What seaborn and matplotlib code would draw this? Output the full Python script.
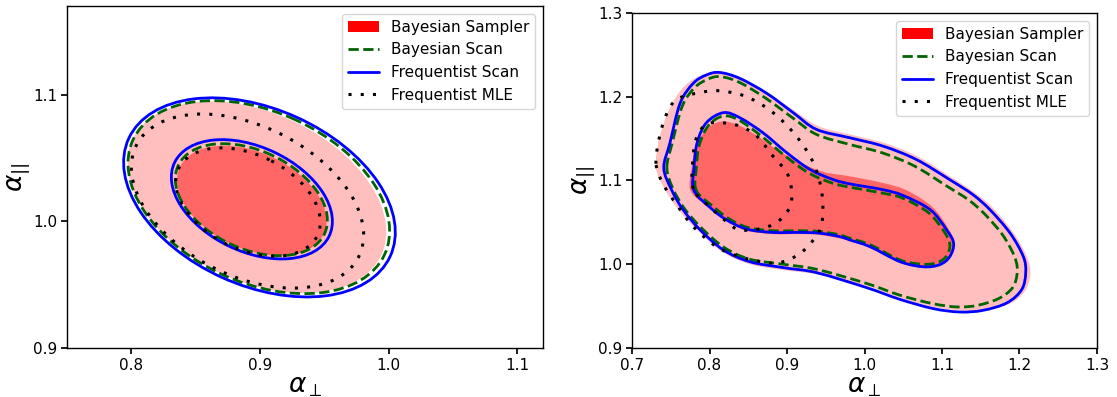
import numpy as np
import matplotlib
matplotlib.use("Agg")
import matplotlib.pyplot as plt
import seaborn as sns
from matplotlib.path import Path
from matplotlib.patches import PathPatch, Ellipse, Patch
from matplotlib.lines import Line2D

# ---------------- data ----------------
legend_labels = ["Bayesian Sampler", "Bayesian Scan", "Frequentist Scan", "Frequentist MLE"]

# Left panel: elliptical contours  [centre x, centre y, half x-extent, half y-extent, correlation]
L_sampler_2s = [0.8976, 1.0190, 0.1006, 0.0757, -0.36]
L_sampler_1s = [0.8936, 1.0163, 0.0581, 0.0434, -0.37]
L_bscan_2s = [0.8991, 1.0191, 0.1017, 0.0762, -0.35]
L_bscan_1s = [0.8933, 1.0171, 0.0591, 0.0442, -0.37]
L_fscan_2s = [0.8996, 1.0189, 0.1056, 0.0786, -0.35]
L_fscan_1s = [0.8937, 1.0174, 0.0626, 0.0471, -0.37]
L_mle_2s = [0.8903, 1.0160, 0.0903, 0.0687, -0.39]
L_mle_1s = [0.8907, 1.0152, 0.0562, 0.0428, -0.37]

# Right panel: contour outlines
R_sampler_2s_x = [0.731, 0.735, 0.748, 0.765, 0.785, 0.805, 0.822, 0.845, 0.876, 0.910, 0.940, 0.981,
                  1.025, 1.068, 1.112, 1.143, 1.166, 1.192, 1.210, 1.214, 1.207, 1.188, 1.155, 1.123,
                  1.089, 1.046, 1.003, 0.938, 0.895, 0.852, 0.816, 0.785, 0.760, 0.742]
R_sampler_2s_y = [1.115, 1.150, 1.185, 1.210, 1.224, 1.229, 1.228, 1.220, 1.204, 1.183, 1.165, 1.155,
                  1.145, 1.129, 1.104, 1.085, 1.067, 1.038, 1.008, 0.988, 0.968, 0.953, 0.945, 0.945,
                  0.949, 0.960, 0.974, 0.988, 0.993, 1.000, 1.015, 1.040, 1.065, 1.090]

R_sampler_1s_x = [0.776, 0.777, 0.782, 0.795, 0.813, 0.835, 0.862, 0.890, 0.918, 0.948, 0.981, 1.024,
                  1.055, 1.088, 1.108, 1.116, 1.111, 1.097, 1.076, 1.046, 1.007, 0.981, 0.943, 0.917,
                  0.882, 0.848, 0.822, 0.803]
R_sampler_1s_y = [1.087, 1.115, 1.140, 1.160, 1.170, 1.167, 1.153, 1.135, 1.121, 1.110, 1.105, 1.097,
                  1.088, 1.068, 1.043, 1.025, 1.009, 0.999, 0.996, 1.002, 1.020, 1.028, 1.035, 1.036,
                  1.036, 1.040, 1.051, 1.065]

R_bscan_2s_x = [0.745, 0.752, 0.765, 0.781, 0.798, 0.814, 0.839, 0.873, 0.907, 0.938, 0.981, 1.023,
                1.065, 1.105, 1.134, 1.155, 1.179, 1.194, 1.197, 1.191, 1.173, 1.146, 1.120, 1.088,
                1.046, 1.003, 0.938, 0.895, 0.852, 0.819, 0.790, 0.768, 0.753]
R_bscan_2s_y = [1.115, 1.145, 1.189, 1.211, 1.221, 1.224, 1.217, 1.198, 1.175, 1.155, 1.143, 1.133,
                1.117, 1.094, 1.077, 1.060, 1.034, 1.008, 0.990, 0.972, 0.959, 0.951, 0.949, 0.953,
                0.963, 0.977, 0.994, 1.000, 1.006, 1.020, 1.043, 1.066, 1.090]

R_bscan_1s_x = [0.783, 0.783, 0.787, 0.799, 0.818, 0.838, 0.867, 0.898, 0.928, 0.958, 0.981, 1.023,
                1.049, 1.082, 1.102, 1.110, 1.106, 1.094, 1.075, 1.046, 1.008, 0.981, 0.968, 0.943,
                0.917, 0.882, 0.849, 0.824, 0.806]
R_bscan_1s_y = [1.088, 1.115, 1.143, 1.166, 1.177, 1.172, 1.153, 1.129, 1.109, 1.097, 1.092, 1.085,
                1.079, 1.062, 1.040, 1.024, 1.010, 1.002, 1.000, 1.005, 1.023, 1.031, 1.035, 1.039,
                1.040, 1.040, 1.044, 1.055, 1.068]

R_fscan_2s_x = [0.741, 0.749, 0.762, 0.779, 0.796, 0.813, 0.839, 0.874, 0.908, 0.938, 0.981, 1.024,
                1.067, 1.110, 1.140, 1.162, 1.188, 1.205, 1.208, 1.203, 1.184, 1.153, 1.123, 1.089,
                1.046, 1.003, 0.938, 0.895, 0.852, 0.818, 0.788, 0.766, 0.751]
R_fscan_2s_y = [1.115, 1.145, 1.192, 1.216, 1.226, 1.229, 1.222, 1.204, 1.181, 1.161, 1.151, 1.141,
                1.125, 1.101, 1.083, 1.065, 1.037, 1.009, 0.990, 0.970, 0.954, 0.945, 0.943, 0.947,
                0.958, 0.972, 0.990, 0.996, 1.003, 1.017, 1.041, 1.065, 1.089]

R_fscan_1s_x = [0.780, 0.780, 0.784, 0.796, 0.818, 0.839, 0.869, 0.900, 0.930, 0.960, 0.981, 1.024,
                1.050, 1.085, 1.106, 1.115, 1.110, 1.097, 1.076, 1.046, 1.007, 0.981, 0.968, 0.943,
                0.917, 0.882, 0.848, 0.822, 0.803]
R_fscan_1s_y = [1.088, 1.115, 1.145, 1.169, 1.181, 1.175, 1.157, 1.133, 1.113, 1.101, 1.096, 1.089,
                1.082, 1.065, 1.041, 1.025, 1.009, 0.9995, 0.997, 1.003, 1.021, 1.029, 1.033, 1.037,
                1.038, 1.038, 1.042, 1.053, 1.066]

R_mle_2s_x = [0.731, 0.735, 0.744, 0.758, 0.788, 0.814, 0.848, 0.882, 0.912, 0.934, 0.945, 0.945,
              0.934, 0.917, 0.895, 0.874, 0.839, 0.809, 0.779, 0.757, 0.740]
R_mle_2s_y = [1.120, 1.150, 1.178, 1.197, 1.205, 1.207, 1.200, 1.181, 1.153, 1.121, 1.085, 1.049,
              1.029, 1.013, 1.003, 1.002, 1.009, 1.021, 1.045, 1.072, 1.096]

R_mle_1s_x = [0.779, 0.779, 0.784, 0.796, 0.814, 0.839, 0.861, 0.882, 0.900, 0.906, 0.904, 0.891,
              0.869, 0.839, 0.822, 0.801]
R_mle_1s_y = [1.090, 1.129, 1.153, 1.167, 1.169, 1.165, 1.153, 1.129, 1.109, 1.087, 1.069, 1.053,
              1.043, 1.041, 1.051, 1.068]

L_xlim, L_ylim = (0.75, 1.12), (0.9, 1.17)
L_xticks, L_yticks = [0.8, 0.9, 1.0, 1.1], [0.9, 1.0, 1.1]
R_xlim, R_ylim = (0.7, 1.3), (0.9, 1.3)
R_xticks, R_yticks = [0.7, 0.8, 0.9, 1.0, 1.1, 1.2, 1.3], [0.9, 1.0, 1.1, 1.2, 1.3]

# ---------------- style ----------------
sns.set_theme(style="ticks", rc={
    "axes.edgecolor": "black", "xtick.color": "black", "ytick.color": "black",
    "text.color": "black", "axes.labelcolor": "black", "axes.linewidth": 1.0,
    "xtick.major.size": 4, "ytick.major.size": 4,
})
plt.rcParams["font.family"] = ["DejaVu Sans"]

C_OUT, C_IN = "#ffbfbf", "#ff6666"
DASH = (0, (3.7, 1.6))
DOT = (0, (1, 3))
STY = {
    "bscan": dict(edgecolor="#006400", linestyle=DASH, linewidth=2.0),
    "fscan": dict(edgecolor="blue", linestyle="-", linewidth=2.0),
    "mle": dict(edgecolor="black", linestyle=DOT, linewidth=2.2),
}


def smooth_closed_path(xs, ys):
    P = np.column_stack([xs, ys]).astype(float)
    n = len(P)
    verts, codes = [P[0]], [Path.MOVETO]
    for i in range(n):
        p0, p1, p2, p3 = P[i - 1], P[i], P[(i + 1) % n], P[(i + 2) % n]
        verts += [p1 + (p2 - p0) / 6.0, p2 - (p3 - p1) / 6.0, p2]
        codes += [Path.CURVE4] * 3
    verts.append(P[0])
    codes.append(Path.CLOSEPOLY)
    return Path(verts, codes)


def ellipse(p, **kw):
    cx, cy, hx, hy, r = p
    S = np.array([[hx * hx, r * hx * hy], [r * hx * hy, hy * hy]])
    vals, vecs = np.linalg.eigh(S)
    ang = np.degrees(np.arctan2(vecs[1, 1], vecs[0, 1]))
    return Ellipse((cx, cy), 2 * np.sqrt(vals[1]), 2 * np.sqrt(vals[0]), angle=ang, **kw)


fig = plt.figure(figsize=(11.17, 3.97), dpi=100)
axL = fig.add_axes([67 / 1117, 1 - 348 / 397, 476 / 1117, 342 / 397])
axR = fig.add_axes([632 / 1117, 1 - 348 / 397, 465 / 1117, 335 / 397])

# left panel
axL.add_patch(ellipse(L_sampler_2s, facecolor=C_OUT, edgecolor="none", zorder=1))
axL.add_patch(ellipse(L_sampler_1s, facecolor=C_IN, edgecolor="none", zorder=2))
for p in (L_bscan_2s, L_bscan_1s):
    axL.add_patch(ellipse(p, fill=False, zorder=3, **STY["bscan"]))
for p in (L_fscan_2s, L_fscan_1s):
    axL.add_patch(ellipse(p, fill=False, zorder=4, **STY["fscan"]))
for p in (L_mle_2s, L_mle_1s):
    axL.add_patch(ellipse(p, fill=False, zorder=5, **STY["mle"]))

# right panel
axR.add_patch(PathPatch(smooth_closed_path(R_sampler_2s_x, R_sampler_2s_y), facecolor=C_OUT, edgecolor="none", zorder=1))
axR.add_patch(PathPatch(smooth_closed_path(R_sampler_1s_x, R_sampler_1s_y), facecolor=C_IN, edgecolor="none", zorder=2))
for xs, ys in ((R_bscan_2s_x, R_bscan_2s_y), (R_bscan_1s_x, R_bscan_1s_y)):
    axR.add_patch(PathPatch(smooth_closed_path(xs, ys), fill=False, zorder=3, **STY["bscan"]))
for xs, ys in ((R_fscan_2s_x, R_fscan_2s_y), (R_fscan_1s_x, R_fscan_1s_y)):
    axR.add_patch(PathPatch(smooth_closed_path(xs, ys), fill=False, zorder=4, **STY["fscan"]))
for xs, ys in ((R_mle_2s_x, R_mle_2s_y), (R_mle_1s_x, R_mle_1s_y)):
    axR.add_patch(PathPatch(smooth_closed_path(xs, ys), fill=False, zorder=5, **STY["mle"]))

handles = [
    Patch(facecolor="red", edgecolor="none"),
    Line2D([], [], color="#006400", linestyle=DASH, linewidth=2.0),
    Line2D([], [], color="blue", linestyle="-", linewidth=2.0),
    Line2D([], [], color="black", linestyle=DOT, linewidth=2.2),
]

for ax, xl, yl, xt, yt in ((axL, L_xlim, L_ylim, L_xticks, L_yticks),
                           (axR, R_xlim, R_ylim, R_xticks, R_yticks)):
    ax.set_xlim(*xl)
    ax.set_ylim(*yl)
    ax.set_xticks(xt)
    ax.set_yticks(yt)
    ax.set_xticklabels([f"{v:.1f}" for v in xt], fontsize=11)
    ax.set_yticklabels([f"{v:.1f}" for v in yt], fontsize=11)
    ax.tick_params(pad=3)
    ax.set_xlabel(r"$\alpha_{\perp}$", fontsize=19, labelpad=0)
    ax.set_ylabel(r"$\alpha_{||}$", fontsize=19, labelpad=1)
    for s in ax.spines.values():
        s.set_visible(True)
    ax.legend(handles, legend_labels, loc="upper right", fontsize=11, frameon=True,
              fancybox=True, framealpha=0.8, edgecolor="0.8")

fig.savefig("out.png", dpi=100)
